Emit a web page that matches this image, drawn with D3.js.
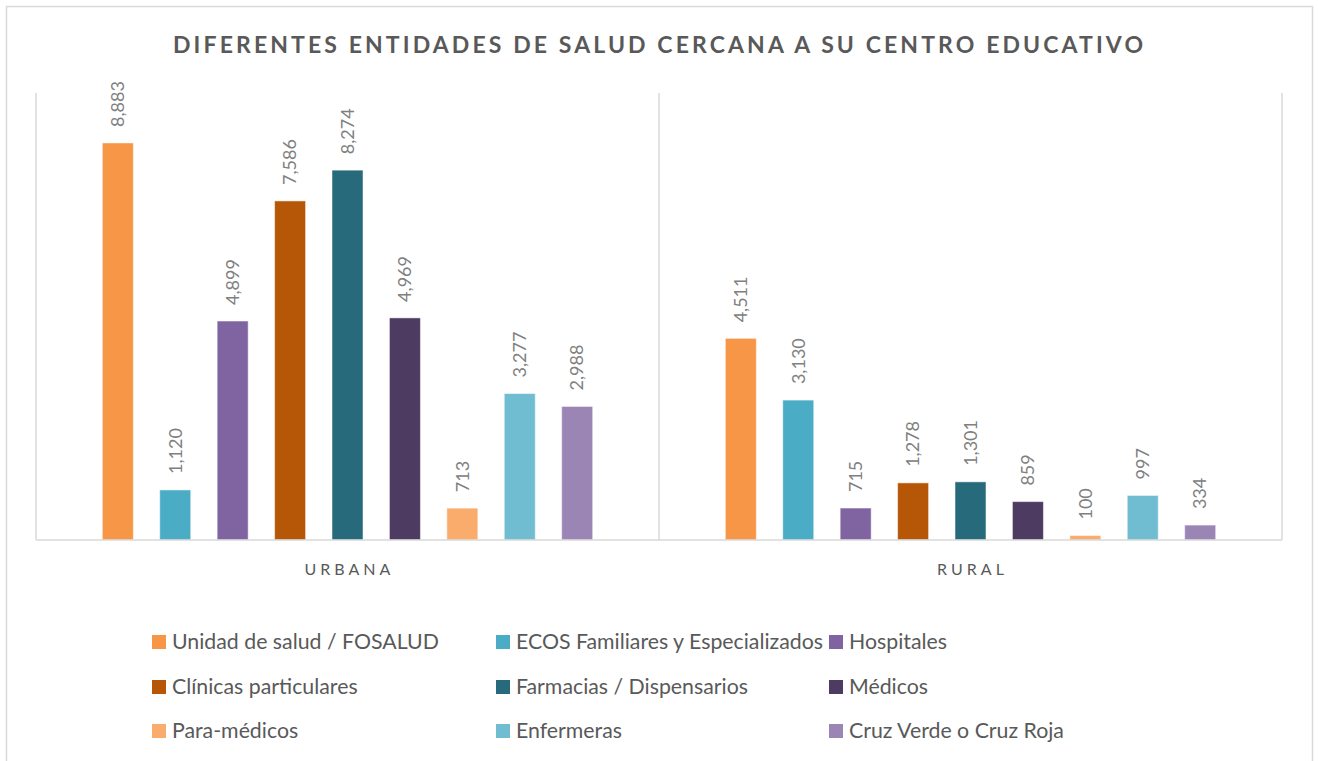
<!DOCTYPE html>
<html>
<head>
<meta charset="utf-8">
<script src="https://cdn.jsdelivr.net/npm/d3@7"></script>
<style>
  body { margin: 0; background: #fff; }
  text { font-family: Lato, "Open Sans", sans-serif; }
</style>
</head>
<body>
<svg id="chart" width="1318" height="761"></svg>
<script>
// data
var categories = ["URBANA", "RURAL"];
var series = ["Unidad de salud / FOSALUD", "ECOS Familiares y Especializados", "Hospitales",
              "Clínicas particulares", "Farmacias / Dispensarios", "Médicos",
              "Para-médicos", "Enfermeras", "Cruz Verde o Cruz Roja"];
var urbana = [8883, 1120, 4899, 7586, 8274, 4969, 713, 3277, 2988];
var rural = [4511, 3130, 715, 1278, 1301, 859, 100, 997, 334];
var colors = ["#F79646", "#4BACC6", "#8064A2", "#B65708", "#276A7C", "#4D3B62",
              "#FAAC6C", "#70BDD1", "#9B85B5"];

var svg = d3.select("#chart");

// chart border
svg.append("rect")
    .attr("x", 6.5).attr("y", 6.5)
    .attr("width", 1306).attr("height", 770)
    .attr("fill", "#fff")
    .attr("stroke", "#D9D9D9")
    .attr("stroke-width", 1.5);

var plotLeft = 36, plotRight = 1282, plotTop = 93, plotBottom = 540;

var x0 = d3.scaleBand().domain(categories).range([plotLeft, plotRight]);
var x1 = d3.scaleBand().domain(series).range([0, x0.bandwidth()])
    .paddingInner(0.46).paddingOuter(1.155);
var y = d3.scaleLinear().domain([0, 10000]).range([plotBottom, plotTop]);

var fmt = d3.format(",");

// title
svg.append("text")
    .attr("x", 173).attr("y", 53)
    .attr("textLength", 970)
    .attr("lengthAdjust", "spacing")
    .attr("font-size", 23)
    .attr("font-weight", "bold")
    .attr("fill", "#595959")
    .text("DIFERENTES ENTIDADES DE SALUD CERCANA A SU CENTRO EDUCATIVO");

// separators between categories
var edges = categories.map(function(c) { return x0(c); })
    .concat([x0(categories[categories.length - 1]) + x0.bandwidth()]);
svg.selectAll(".sep")
    .data(edges)
    .enter().append("line")
    .attr("class", "sep")
    .attr("x1", function(d) { return d; })
    .attr("x2", function(d) { return d; })
    .attr("y1", plotTop).attr("y2", plotBottom)
    .attr("stroke", "#D9D9D9")
    .attr("stroke-width", 1.5);

// bars
var rows = categories.map(function(c, i) {
    return { cat: c, vals: i === 0 ? urbana : rural };
});

var grp = svg.selectAll(".grp")
    .data(rows)
    .enter().append("g")
    .attr("class", "grp")
    .attr("transform", function(d) { return "translate(" + x0(d.cat) + ",0)"; });

var cell = grp.selectAll(".bar")
    .data(function(d) {
        return d.vals.map(function(v, j) { return { s: series[j], v: v, c: colors[j] }; });
    })
    .enter().append("g")
    .attr("class", "bar");

cell.append("rect")
    .attr("x", function(d) { return x1(d.s); })
    .attr("y", function(d) { return y(d.v); })
    .attr("width", x1.bandwidth())
    .attr("height", function(d) { return plotBottom - y(d.v); })
    .attr("fill", function(d) { return d.c; })
    .attr("stroke", "#fff")
    .attr("stroke-opacity", 0.5)
    .attr("stroke-width", 1);

cell.append("text")
    .attr("transform", function(d) {
        return "translate(" + (x1(d.s) + x1.bandwidth() / 2) + "," + (y(d.v) - 16) + ") rotate(-90)";
    })
    .attr("dy", "0.35em")
    .attr("font-size", 18)
    .attr("fill", "#808080")
    .text(function(d) { return fmt(d.v); });

// baseline
svg.append("line")
    .attr("x1", plotLeft).attr("x2", plotRight)
    .attr("y1", plotBottom).attr("y2", plotBottom)
    .attr("stroke", "#D9D9D9")
    .attr("stroke-width", 1.5);

// category labels
svg.selectAll(".cat")
    .data(categories)
    .enter().append("text")
    .attr("class", "cat")
    .attr("x", function(d) { return x0(d) + x0.bandwidth() / 2 + 2; })
    .attr("y", 575)
    .attr("text-anchor", "middle")
    .attr("font-size", 16)
    .attr("letter-spacing", 4)
    .attr("fill", "#595959")
    .text(function(d) { return d; });

// legend
var colX = [152, 496, 829];
var rowY = [635, 680, 724];
var leg = svg.selectAll(".leg")
    .data(series)
    .enter().append("g")
    .attr("class", "leg")
    .attr("transform", function(d, i) {
        return "translate(" + colX[i % 3] + "," + rowY[Math.floor(i / 3)] + ")";
    });

leg.append("rect")
    .attr("width", 14).attr("height", 14)
    .attr("fill", function(d, i) { return colors[i]; });

leg.append("text")
    .attr("x", 20).attr("y", 14)
    .attr("font-size", 21.3)
    .attr("fill", "#595959")
    .text(function(d) { return d; });
</script>
</body>
</html>
